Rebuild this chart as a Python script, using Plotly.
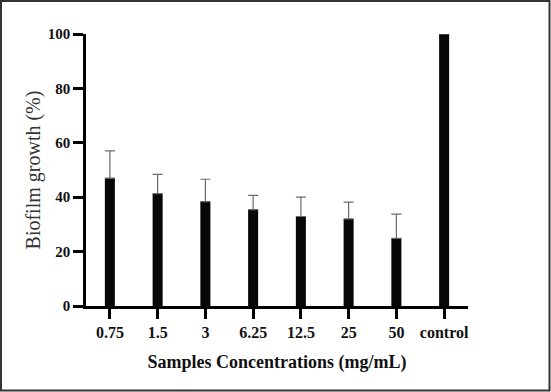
import plotly.graph_objects as go

categories = ["0.75", "1.5", "3", "6.25", "12.5", "25", "50", "control"]
growth = [47.0, 41.3, 38.4, 35.4, 32.9, 32.0, 24.9, 100.0]
error_plus = [10.0, 7.1, 8.2, 5.3, 7.1, 6.2, 8.9, 0.0]
y_ticks = [0, 20, 40, 60, 80, 100]

W, H = 551, 392
L, R, T, B = 86, 83, 34, 86
pw, ph = W - L - R, H - T - B

font_family = "Liberation Serif, Times New Roman, serif"

fig = go.Figure()
fig.add_trace(go.Bar(
    x=list(range(len(categories))),
    y=growth,
    width=0.21,
    marker=dict(color="#060808", line=dict(width=0)),
    error_y=dict(type="data", array=error_plus, symmetric=False, arrayminus=[0]*len(categories),
                 visible=True, color="#6a6a6a", thickness=1.2, width=5),
    showlegend=False,
))

fig.update_layout(
    width=W, height=H,
    margin=dict(l=L, r=R, t=T, b=B),
    plot_bgcolor="white", paper_bgcolor="white",
    font=dict(family=font_family, color="#111", size=16),
    xaxis=dict(
        range=[-0.5, 7.5],
        tickmode="array", tickvals=list(range(len(categories))), ticktext=categories,
        showline=True, linecolor="#000", linewidth=2.5,
        ticks="outside", ticklen=10, tickwidth=2.5, tickcolor="#000",
        showgrid=False, zeroline=False,
        tickfont=dict(family=font_family, size=16, color="#111", weight="bold"),
        title=dict(text="<b>Samples Concentrations (mg/mL)</b>",
                   font=dict(family=font_family, size=18, color="#111"), standoff=16),
    ),
    yaxis=dict(
        range=[0, 100],
        tickmode="array", tickvals=y_ticks,
        showline=True, linecolor="#000", linewidth=2.5,
        ticks="outside", ticklen=10, tickwidth=2.5, tickcolor="#000",
        showgrid=False, zeroline=False,
        tickfont=dict(family=font_family, size=15, color="#111", weight="bold"),
        title=dict(text="Biofilm growth (%)",
                   font=dict(family=font_family, size=20, color="#333"), standoff=2),
    ),
    shapes=[dict(
        type="rect", xref="paper", yref="paper",
        x0=-(L - 1) / pw, x1=1 + (R - 1.5) / pw,
        y0=-(B - 1.5) / ph, y1=1 + (T - 1) / ph,
        line=dict(color="#333", width=2), fillcolor="rgba(0,0,0,0)", layer="above",
    )],
)

fig.write_html("out.html", config={"displayModeBar": False},
               post_script="document.body.style.margin='0';document.body.style.padding='0';")
